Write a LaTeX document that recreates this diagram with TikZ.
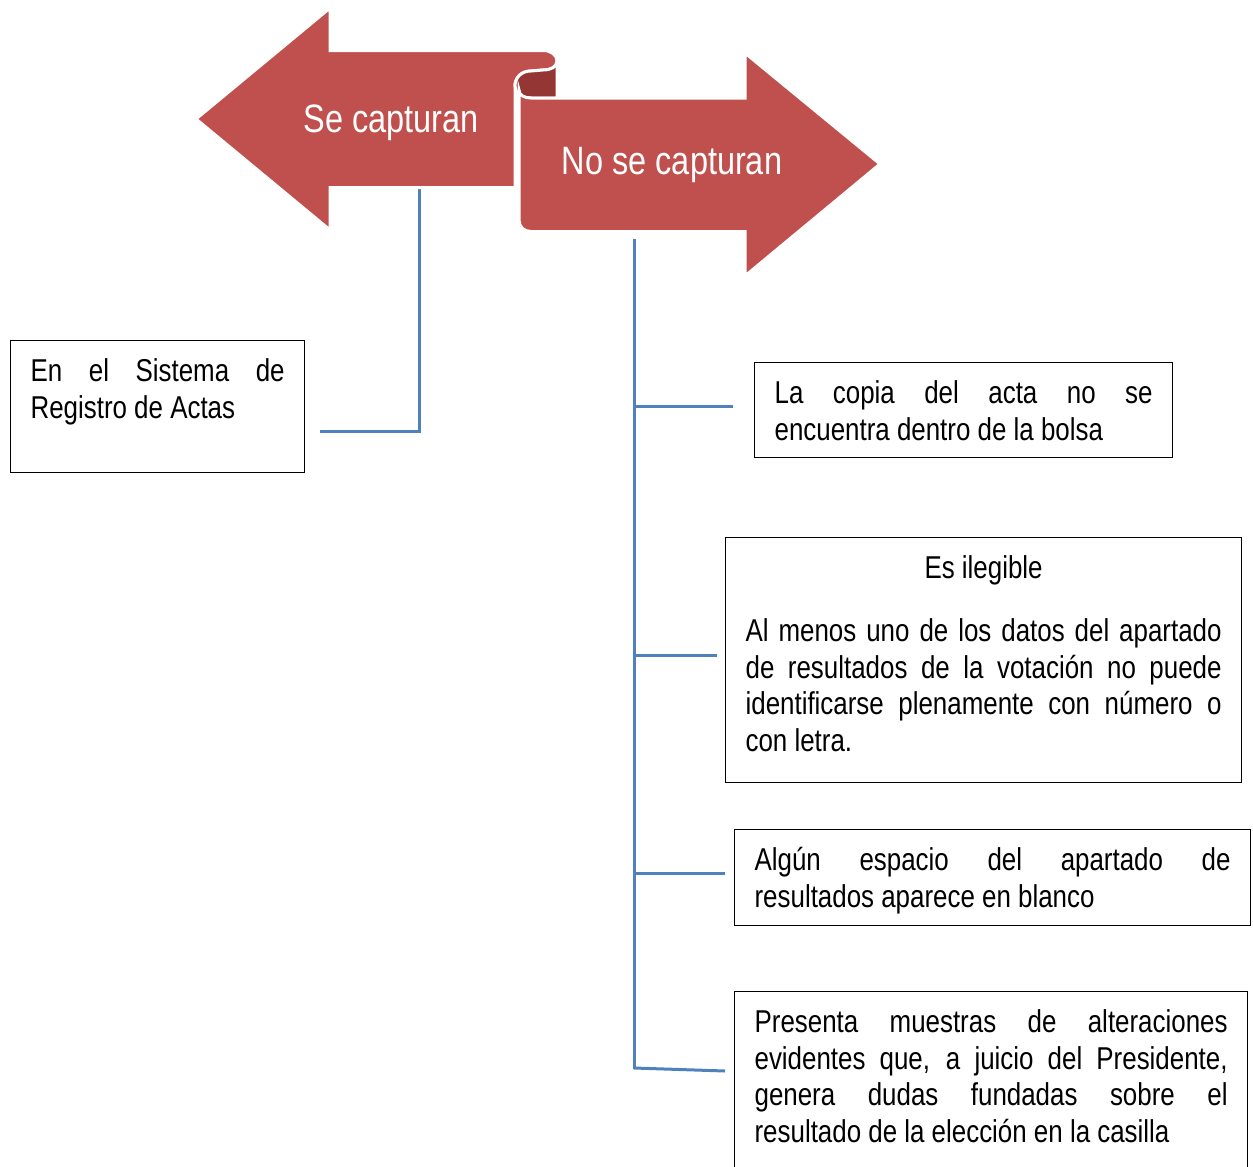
\documentclass[tikz,border=0pt]{standalone}
\usepackage{fontspec}
\setmainfont{Liberation Sans}[FakeStretch=0.82]
\usepackage{tikz}
\usetikzlibrary{positioning}
\pgfdeclarelayer{background}
\pgfsetlayers{background,main}
\definecolor{rojoflecha}{HTML}{C0504D}
\definecolor{rojopliegue}{HTML}{943634}
\definecolor{azullinea}{HTML}{4F81BD}
\newcommand{\letracaja}{\fontsize{15.8pt}{18.25pt}\selectfont\tolerance=9999\hyphenpenalty=10000}
\newcommand{\letraflecha}{\fontsize{19.8pt}{23pt}\selectfont}

\begin{document}
\begin{tikzpicture}[x=0.5pt,y=-0.5pt,
					flecha/.style={fill=rojoflecha, draw=white, line width=1.5pt},
					pliegue/.style={fill=rojopliegue, draw=white, line width=1.5pt},
					rotulo/.style={text=white, font=\letraflecha, inner sep=0pt, anchor=base},
					caja/.style={draw=black, line width=0.6pt, anchor=north west, inner xsep=10pt, inner ysep=0pt, align=justify, font=\letracaja, text height=20.5pt},
					conector/.style={draw=azullinea, line width=1.5pt},
					]
					\useasboundingbox (0,0) rectangle (1253,1167);
					%Arrows
					\path[flecha] (196,119) -- (330,8) -- (330,50.5) -- (543,50.5) .. controls (551,50.5) and (557,55) .. (557,61) .. controls (557,67) and (551,70) .. (543,70) -- (531,71) .. controls (522,71) and (515,77) .. (515,86) -- (515,187.5) -- (330,187.5) -- (330,230) -- cycle;
					\path[pliegue] (557,61) .. controls (557,67) and (551,70) .. (543,70) -- (531,71) .. controls (522,71) and (515,77) .. (515,86) .. controls (515,93) and (522,98) .. (531,98) -- (557,98) -- cycle;
					\path[flecha] (519,90) -- (519,220) .. controls (519,227) and (524,231.5) .. (531,231.5) -- (745,231.5) -- (745,276) -- (880,164) -- (745,53) -- (745,98) -- (531,98) .. controls (524,98) and (519,95) .. (519,90) -- cycle;
					
					%Nodes
					\node[rotulo]      (capturan)      at 	(391,132)      {Se capturan};
					\node[rotulo]      (nocapturan)    at 	(672,174)      {No se capturan};
					
					\node[caja, text width=127pt, text depth=45.5pt]     (registro)   at 	(10,340)   {En el Sistema de\linebreak Registro de Actas};
					\node[caja, text width=189pt, text depth=27pt]       (copia)      at 	(754,362)  {La copia del acta no se\linebreak encuentra dentro de la bolsa};
					\node[caja, text width=238pt, text depth=102pt]      (ilegible)   at 	(725,537)  {\makebox[\linewidth]{Es ilegible}\par\vspace{13.25pt}Al menos uno de los datos del apartado\linebreak de resultados de la votación no puede\linebreak identificarse plenamente con número o\linebreak con letra.};
					\node[caja, text width=238pt, text depth=27.5pt]     (blanco)     at 	(734,829)  {Algún espacio del apartado de\linebreak resultados aparece en blanco};
					\node[caja, text width=236.5pt, text depth=80pt]     (presenta)   at 	(734,991)  {Presenta muestras de alteraciones\linebreak evidentes que, a juicio del Presidente,\linebreak genera dudas fundadas sobre el\linebreak resultado de la elección en la casilla};
					
					\coordinate (pieIzq)       at (419,187);
					\coordinate (finIzq)       at (320,431);
					\coordinate (pieDer)       at (634,239);
					\coordinate (baseDer)      at (634,1069);
					\coordinate (ramaCopia)    at (733,406);
					\coordinate (ramaIlegible) at (717,655);
					\coordinate (ramaBlanco)   at (725,873);
					\coordinate (ramaPresenta) at (725,1071);
					
					\begin{pgfonlayer}{background}
					%Lines
					\draw[conector] (pieIzq) |- (finIzq);
					\draw[conector] (pieDer) -- (baseDer);
					\draw[conector] (pieDer |- ramaCopia) -- (ramaCopia);
					\draw[conector] (pieDer |- ramaIlegible) -- (ramaIlegible);
					\draw[conector] (pieDer |- ramaBlanco) -- (ramaBlanco);
					\draw[conector] ([yshift=0.5pt]baseDer) -- (ramaPresenta);
					\end{pgfonlayer}
				\end{tikzpicture}
\end{document}
